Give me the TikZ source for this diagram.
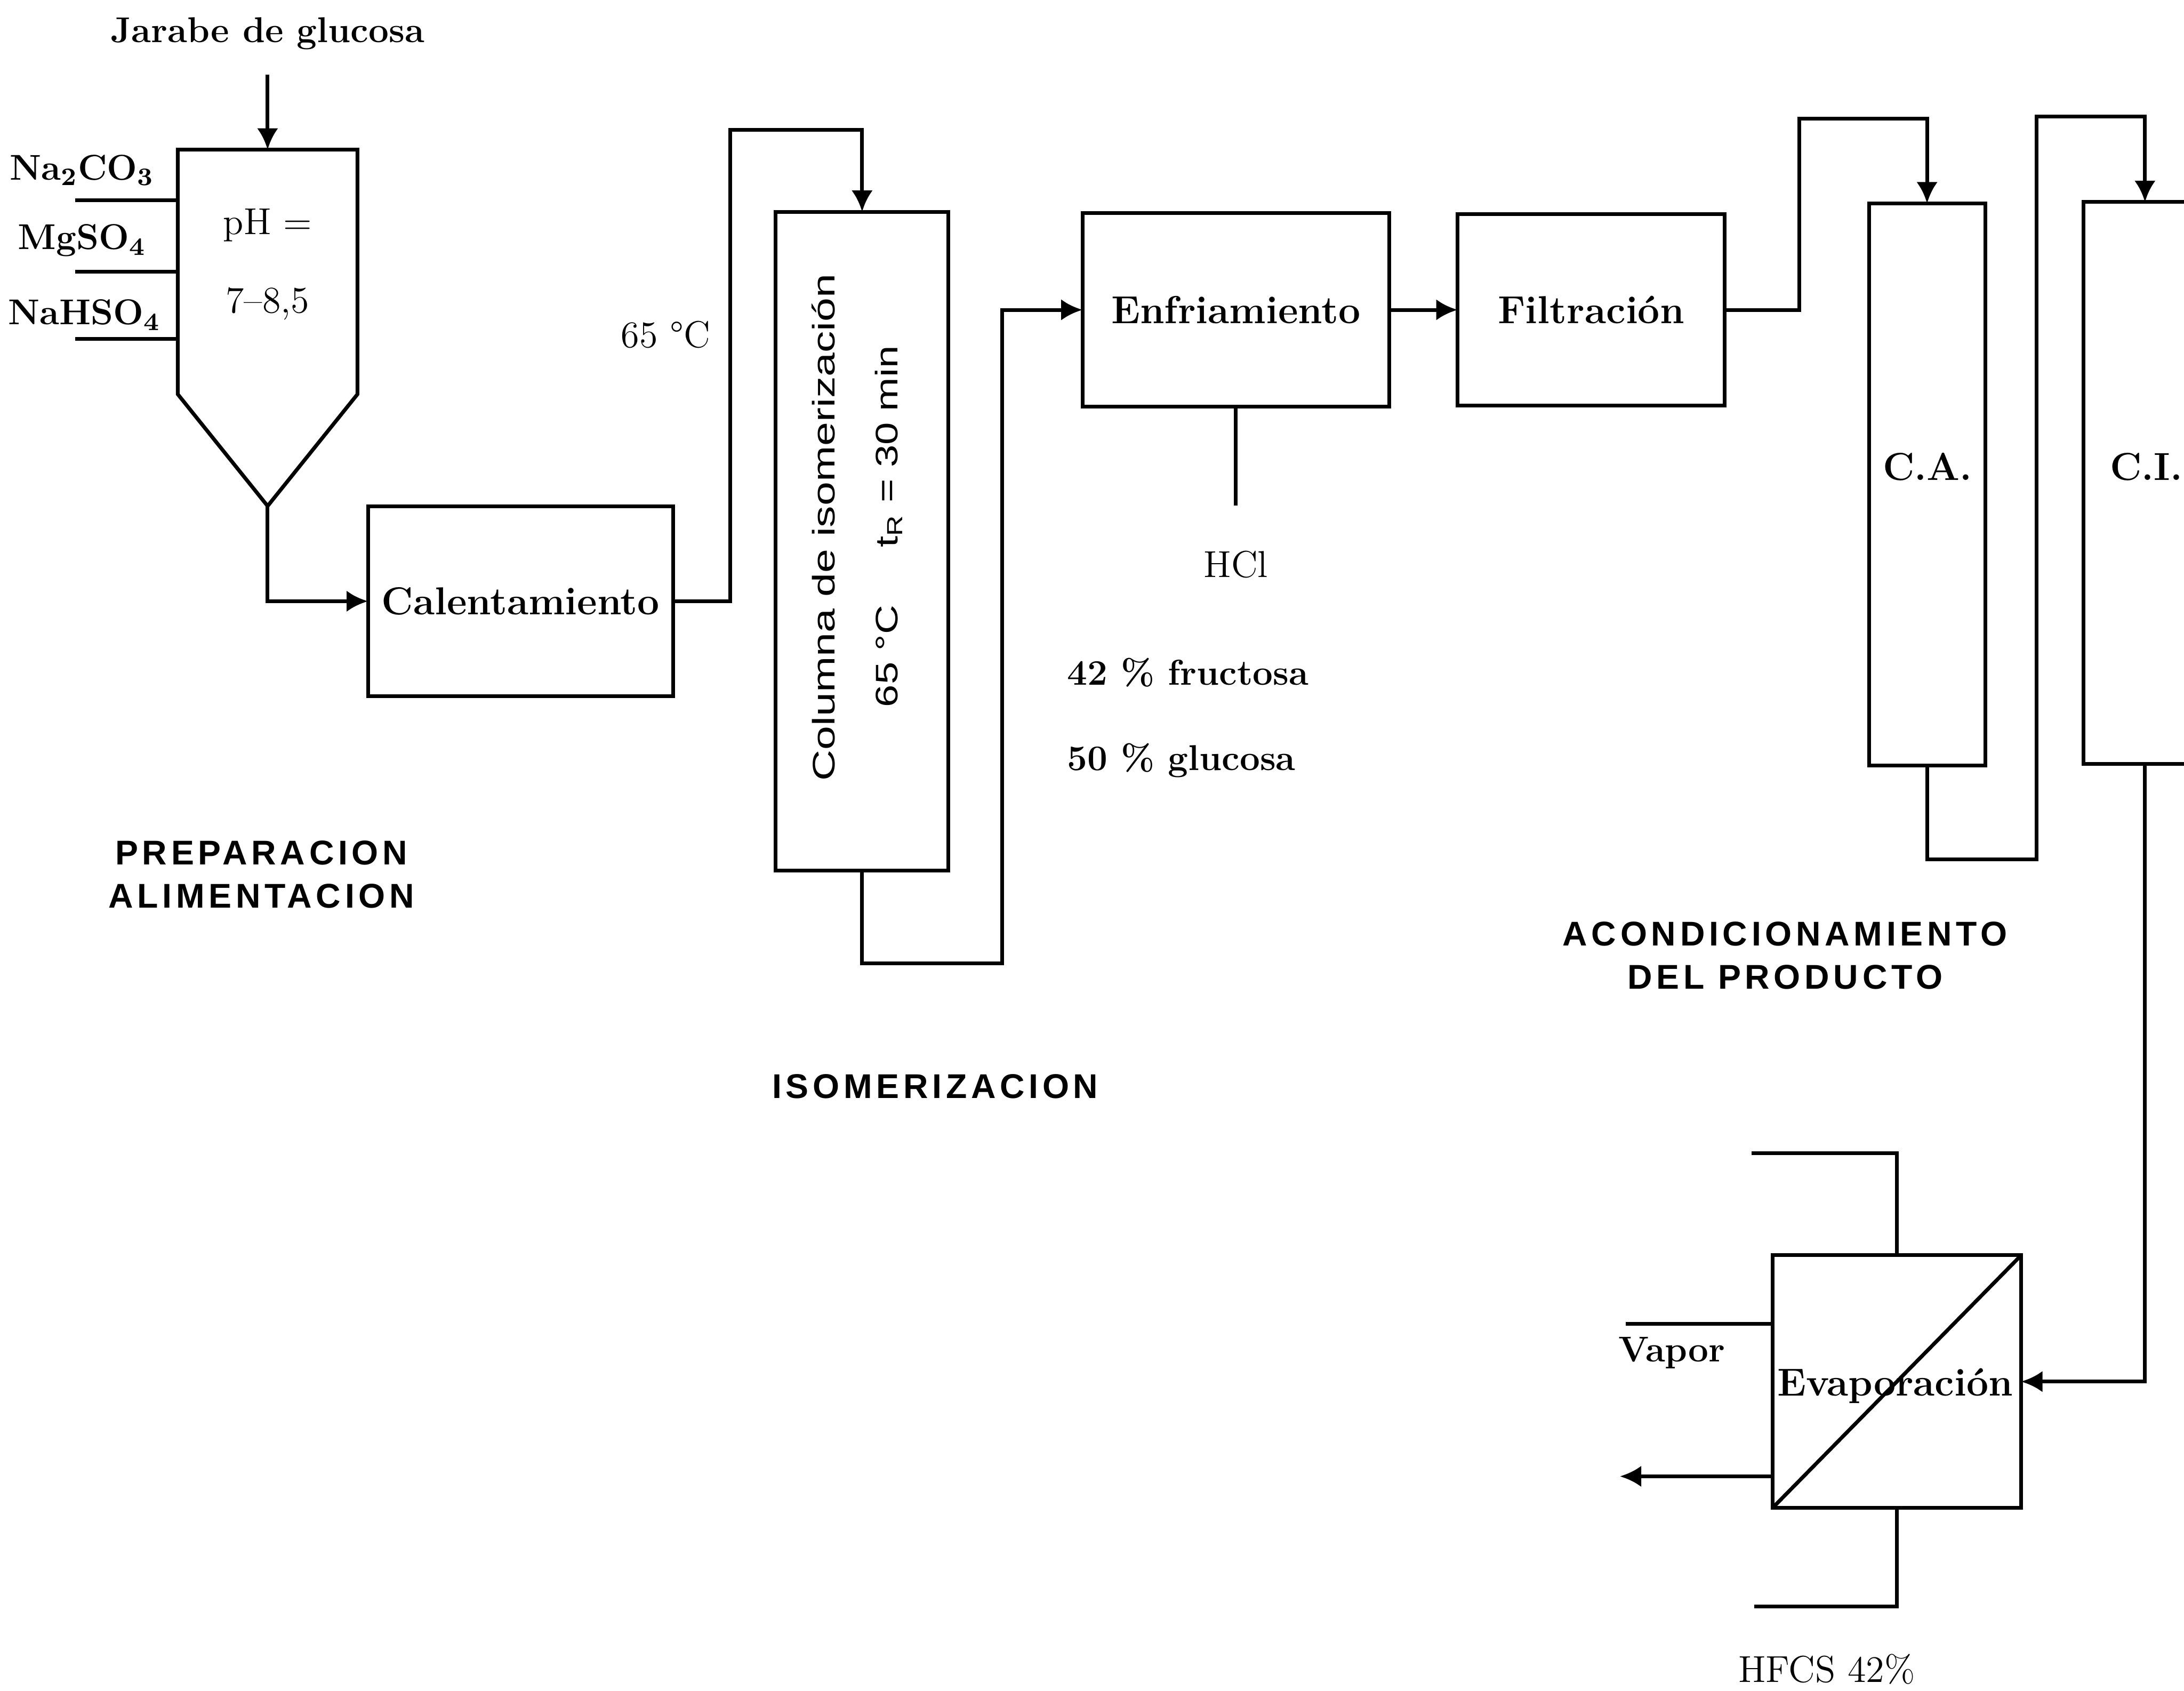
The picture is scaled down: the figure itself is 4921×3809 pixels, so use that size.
\documentclass[tikz,border=0pt]{standalone}
\usepackage{fontspec}
\newfontfamily\titfont[LetterSpace=12]{Liberation Sans}
\newfontfamily\colfont{Liberation Sans}
\usetikzlibrary{arrows.meta,positioning,calc}

\begin{document}
\begin{tikzpicture}[x=0.05mm,y=-0.05mm,line width=1.2pt,
  caja/.style={draw,inner sep=0pt,outer sep=0pt,font=\fontsize{12.5}{15}\selectfont\bfseries},
  etiq/.style={font=\fontsize{11.5}{14}\selectfont\bfseries,inner sep=0pt,anchor=base},
  nota/.style={font=\fontsize{12}{14}\selectfont,inner sep=0pt,anchor=base},
  titulo/.style={font=\fontsize{11}{13.8}\selectfont\titfont\bfseries,align=center,inner sep=0pt},
  rotulo/.style={font=\fontsize{10}{12}\selectfont\colfont,rotate=90,anchor=base,inner sep=0pt},
  flecha/.style={-{Latex[length=2.4mm,width=2.4mm]}}]
  \useasboundingbox (0,0) rectangle (4921,3809);
  \clip (0,0) rectangle (4921,3809);

  % preparacion de la alimentacion
  \node[etiq] (jarabe) at (603,95) {Jarabe de glucosa};
  \coordinate (jin) at (603,168);
  \node[inner sep=0pt,outer sep=0pt,minimum width=20.25mm,minimum height=27.55mm] (tolva) at (603,612.5) {};
  \coordinate (tolvapunta) at (603,1140);
  \draw (tolva.north west) -- (tolva.north east) -- (tolva.south east) -- (tolvapunta) -- (tolva.south west) -- cycle;
  \draw[flecha] (jin) -- (tolva.north);
  \node[nota] (ph) at (603,528) {pH =};
  \node[nota] (phval) at (603,704) {7--8,5};
  \node[etiq] (na2) at (185,405) {Na\textsubscript{2}CO\textsubscript{3}};
  \node[etiq] (mg) at (185,562) {MgSO\textsubscript{4}};
  \node[etiq] (nah) at (190,731) {NaHSO\textsubscript{4}};
  \coordinate (na2in) at (169,451);
  \coordinate (mgin) at (169,612);
  \coordinate (nahin) at (169,763);
  \draw (na2in) -- (na2in -| tolva.west);
  \draw (mgin) -- (mgin -| tolva.west);
  \draw (nahin) -- (nahin -| tolva.west);

  \node[caja,minimum width=34.4mm,minimum height=21.35mm] (calent) at (1173,1354.5) {Calentamiento};
  \draw[flecha] (tolvapunta) |- (calent.west);
  \node[titulo] (prep) at (589,1970) {PREPARACION\\ALIMENTACION};

  % isomerizacion
  \node[caja,minimum width=19.45mm,minimum height=74.2mm] (columna) at (1942.5,1219) {};
  \node[rotulo] (coltxt) at (1881,1188) {\scalebox{1.38}[1]{Columna de isomerización}};
  \node[rotulo] (coldat) at (2023,1186) {\scalebox{1.3}[1]{65 °C\hspace{5mm}t\textsubscript{R} = 30 min}};
  \coordinate (codo1) at (1645,292);
  \draw[flecha] (calent.east) -| (codo1) -| (columna.north);
  \node[nota] (temp) at (1500,783) {65 °C};

  \node[caja,minimum width=34.55mm,minimum height=21.75mm] (enfri) at (2784.5,698) {Enfriamiento};
  \coordinate (codo2) at (2258,2170);
  \draw[flecha] (columna.south) |- (codo2) |- (enfri.west);
  \coordinate (hclfin) at (2784.5,1139);
  \draw (enfri.south) -- (hclfin);
  \node[nota] (hcl) at (2784.5,1300) {HCl};
  \node[etiq,anchor=base west] (fruc) at (2400,1543) {42 \% fructosa};
  \node[etiq,anchor=base west] (gluc) at (2400,1735) {50 \% glucosa};
  \node[titulo] (isom) at (2107,2448) {ISOMERIZACION};

  % acondicionamiento
  \node[caja,minimum width=30.1mm,minimum height=21.55mm] (filtr) at (3585,698) {Filtración};
  \draw[flecha] (enfri.east) -- (filtr.west);
  \node[caja,minimum width=13.1mm,minimum height=63.35mm] (ca) at (4342,1091.5) {};
  \node[caja,draw=none] (catxt) at (4343,1052) {C.A.};
  \node[caja,minimum width=13.8mm,minimum height=63.3mm] (ci) at (4833,1088) {};
  \node[caja,draw=none] (citxt) at (4836,1052) {C.I.};
  \coordinate (codo3) at (4054,267);
  \draw[flecha] (filtr.east) -| (codo3) -| (ca.north);
  \coordinate (codo4) at (4589,1936);
  \coordinate (codo5) at (4589,263);
  \draw[flecha] (ca.south) |- (codo4) -- (codo5) -| (ci.north);
  \node[titulo] (acond) at (4022,2153) {ACONDICIONAMIENTO\\DEL PRODUCTO};

  \node[caja,minimum width=28mm,minimum height=28.45mm] (evap) at (4274,3112.5) {};
  \draw (evap.south west) -- (evap.north east);
  \node[caja,draw=none] (evaptxt) at (4270,3122) {Evaporación};
  \draw[flecha] (ci.south) |- (evap.east);
  \coordinate (evaptop) at (3947,2598);
  \draw (evap.north) |- (evaptop);
  \coordinate (evapbot) at (3953,3619);
  \draw (evap.south) |- (evapbot);
  \coordinate (vaporin) at (3663,2982);
  \draw (vaporin) -- (vaporin -| evap.west);
  \node[etiq] (vapor) at (3767,3068) {Vapor};
  \coordinate (salida) at (3650,3326);
  \draw[flecha] (salida -| evap.west) -- (salida);
  \node[nota] (hfcs) at (4116,3790) {HFCS 42\%};
\end{tikzpicture}
\end{document}
